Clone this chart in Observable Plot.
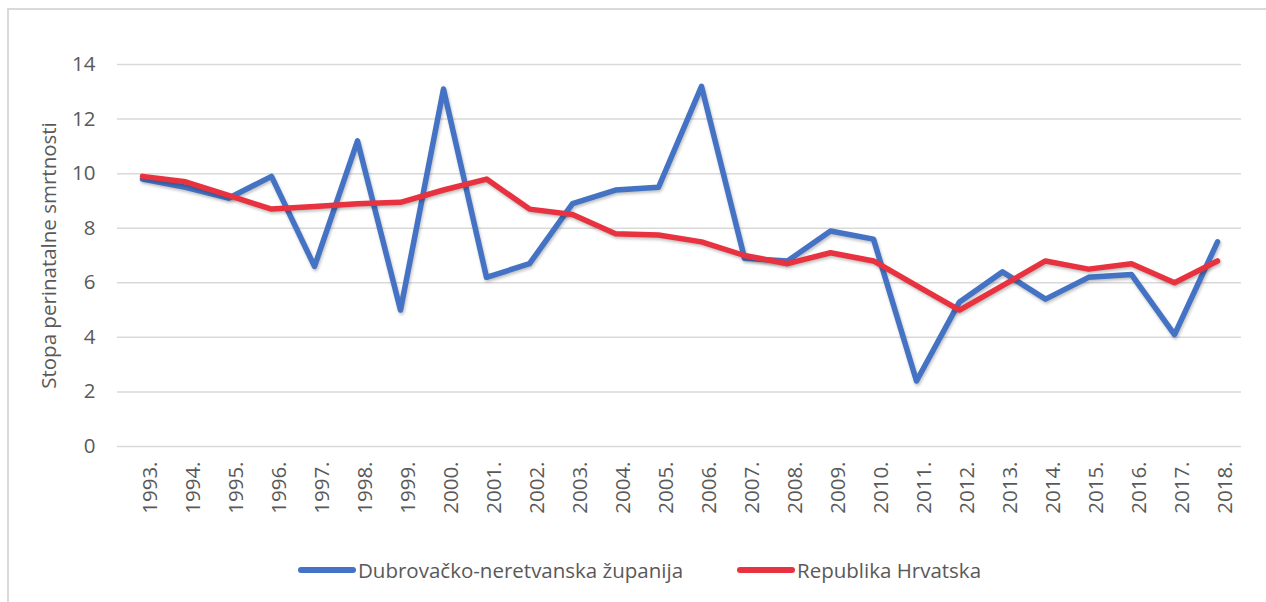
<!DOCTYPE html>
<html>
<head>
<meta charset="utf-8">
<script src="https://cdn.jsdelivr.net/npm/d3@7"></script>
<script src="https://cdn.jsdelivr.net/npm/@observablehq/plot@0.6"></script>
<style>
  html, body { margin: 0; padding: 0; background: #fff; }
  body { width: 1266px; height: 602px; position: relative; overflow: hidden; font-family: "Open Sans", sans-serif; }
  #frame { position: absolute; left: 7px; top: 8px; width: 1400px; height: 700px; border-left: 2px solid #D9D9D9; border-top: 2px solid #D9D9D9; box-sizing: border-box; }
  #chart { position: absolute; left: 0; top: 0; }
  .lg { position: absolute; top: 556px; height: 28px; display: flex; align-items: center; font-size: 20.5px; color: #595959; white-space: nowrap; }
  .sw { width: 58px; height: 6px; border-radius: 3px; margin-right: 2px; }
</style>
</head>
<body>
<div id="frame"></div>
<div id="chart"></div>
<div class="lg" style="left:298px"><div class="sw" style="background:#4472C4"></div><span>Dubrovačko-neretvanska županija</span></div>
<div class="lg" style="left:737px"><div class="sw" style="background:#E8323F"></div><span>Republika Hrvatska</span></div>
<script>
const years = ["1993.","1994.","1995.","1996.","1997.","1998.","1999.","2000.","2001.","2002.","2003.","2004.","2005.","2006.","2007.","2008.","2009.","2010.","2011.","2012.","2013.","2014.","2015.","2016.","2017.","2018."];
const dubrovnik = [9.8, 9.5, 9.1, 9.9, 6.6, 11.2, 5.0, 13.1, 6.2, 6.7, 8.9, 9.4, 9.5, 13.2, 6.9, 6.8, 7.9, 7.6, 2.4, 5.3, 6.4, 5.4, 6.2, 6.3, 4.1, 7.5];
const hrvatska = [9.9, 9.7, 9.2, 8.7, 8.8, 8.9, 8.95, 9.4, 9.8, 8.7, 8.5, 7.8, 7.75, 7.5, 7.0, 6.7, 7.1, 6.8, 5.9, 5.0, 5.9, 6.8, 6.5, 6.7, 6.0, 6.8];
const yTicks = [0, 2, 4, 6, 8, 10, 12, 14];
const seriesNames = ["Dubrovačko-neretvanska županija", "Republika Hrvatska"];
const yLabel = "Stopa perinatalne smrtnosti";

const dataD = years.map((y, i) => ({year: y, value: dubrovnik[i]}));
const dataH = years.map((y, i) => ({year: y, value: hrvatska[i]}));

const chart = Plot.plot({
  width: 1266,
  height: 540,
  marginLeft: 117,
  marginRight: 25,
  marginTop: 64,
  marginBottom: 94,
  style: { fontFamily: "Open Sans, sans-serif", fontSize: "20px", color: "#595959", background: "transparent", overflow: "visible" },
  x: { type: "point", domain: years, padding: 0.5 },
  y: { domain: [0, 14], ticks: yTicks },
  marks: [
    Plot.ruleY(yTicks, { stroke: "#D9D9D9", strokeWidth: 1.5 }),
    Plot.axisY({ ticks: yTicks, tickSize: 0, tickPadding: 22, fontSize: 20.5, fill: "#595959", label: yLabel, labelAnchor: "center", labelArrow: "none", labelOffset: 76 }),
    Plot.axisX({ tickSize: 0, tickPadding: 15, rotate: -90, textAnchor: "end", fontSize: 20.5, fill: "#595959", label: null }),
    Plot.lineY(dataD, { x: "year", y: "value", stroke: "#4472C4", strokeWidth: 5.5, className: "ln" }),
    Plot.lineY(dataH, { x: "year", y: "value", stroke: "#E8323F", strokeWidth: 5.5, className: "ln" })
  ]
});
document.getElementById("chart").appendChild(chart);
chart.querySelectorAll(".ln path").forEach(p => p.style.filter = "drop-shadow(1px 2px 1.5px rgba(0,0,0,0.25))");
</script>
</body>
</html>
